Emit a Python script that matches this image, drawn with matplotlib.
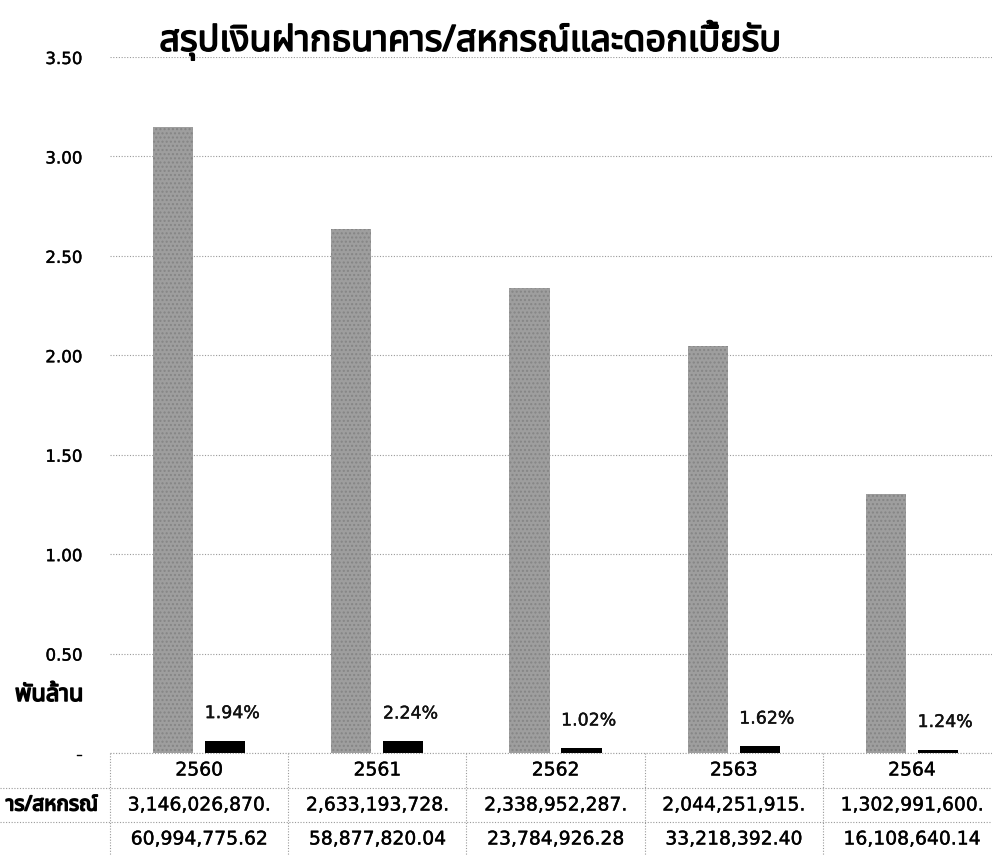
import matplotlib
matplotlib.use("Agg")
import matplotlib.pyplot as plt
from matplotlib import font_manager
from matplotlib.ft2font import FT2Font
from matplotlib.transforms import blended_transform_factory
import matplotlib.patheffects as pe
import numpy as np

# ---------------- data ----------------
years = ['2560', '2561', '2562', '2563', '2564']
deposits = [3146026870, 2633193728, 2338952287, 2044251915, 1302991600]
interest = [60994775.62, 58877820.04, 23784926.28, 33218392.40, 16108640.14]
deposit_labels = ['3,146,026,870.', '2,633,193,728.', '2,338,952,287.',
                  '2,044,251,915.', '1,302,991,600.']
interest_labels = ['60,994,775.62', '58,877,820.04', '23,784,926.28',
                   '33,218,392.40', '16,108,640.14']
pct_labels = ['1.94%', '2.24%', '1.02%', '1.62%', '1.24%']
yticks = [0, 0.5, 1.0, 1.5, 2.0, 2.5, 3.0, 3.5]
ytick_labels = ['-', '0.50', '1.00', '1.50', '2.00', '2.50', '3.00', '3.50']
title = 'สรุปเงินฝากธนาคาร/สหกรณ์และดอกเบี้ยรับ'
unit_label = 'พันล้าน'
row_label = 'าร/สหกรณ์'


def find_thai_font():
    prefs = ['Noto Sans Thai', 'Noto Sans Thai UI', 'Loma', 'Garuda',
             'Tlwg Typo', 'Sarabun', 'Kinnari', 'Norasi', 'Noto Serif Thai']
    names = {f.name for f in font_manager.fontManager.ttflist}
    for p in prefs:
        if p in names:
            return p
    for f in font_manager.fontManager.ttflist:
        try:
            ft = FT2Font(f.fname)
            if ft.get_char_index(0x0E2A):
                return f.name
        except Exception:
            pass
    return None


thai = find_thai_font()
fam = ['DejaVu Sans'] + ([thai] if thai else [])
thai_fam = ([thai] if thai else []) + ['DejaVu Sans']
plt.rcParams['font.family'] = fam

W, H = 992, 855
fig = plt.figure(figsize=(W / 100, H / 100), dpi=100)


def fx(px):
    return px / W


def fy(px):
    return 1 - px / H


bold_fx = [pe.withStroke(linewidth=1.1, foreground='black')]
semi_fx = [pe.withStroke(linewidth=0.3, foreground='#111111')]

y0_px, y35_px = 753, 57
left_px, right_px = 110, 1001
ax = fig.add_axes([fx(left_px), fy(y0_px), fx(right_px - left_px),
                   (y0_px - y35_px) / H])
ax.set_xlim(-0.5, 4.5)
ax.set_ylim(0, 3.5)

x = np.arange(len(years))
off = 0.146
bw = 0.225
dep_b = np.array(deposits) / 1e9
int_b = np.array(interest) / 1e9
ax.bar(x - off, dep_b, width=bw, color='#9e9e9e', zorder=3, hatch='....',
       edgecolor='#858585', linewidth=0)
ax.bar(x + off, int_b, width=bw, color='#000000', zorder=3)

for i in range(len(years)):
    t = ax.annotate(pct_labels[i], (x[i] + off + 0.04, int_b[i]),
                    xytext=(0, 20), textcoords='offset points',
                    ha='center', va='center', fontsize=12.5, color='#111111')
    t.set_path_effects(semi_fx)

for s in ax.spines.values():
    s.set_visible(False)
ax.set_xticks([])
ax.set_yticks(yticks)
ax.set_yticklabels(ytick_labels, fontsize=12)
ax.tick_params(axis='y', length=0, pad=20)
for lab in ax.get_yticklabels():
    lab.set_path_effects(semi_fx)
ax.grid(axis='y', color='#9a9a9a', linestyle=(0, (1, 1.5)), linewidth=0.8,
        zorder=0)
ax.set_axisbelow(True)

# title and unit
fig.text(fx(470), fy(40), title, fontsize=26, ha='center', va='center',
         family=thai_fam, path_effects=bold_fx)
fig.text(fx(49), fy(695), unit_label, fontsize=17, ha='center',
         va='center', family=thai_fam, path_effects=bold_fx)

# data table below
tr = blended_transform_factory(ax.transData, fig.transFigure)
line_kw = dict(color='#9a9a9a', linestyle=(0, (1, 1.5)), linewidth=0.8)
fig.add_artist(plt.Line2D([fx(110), 1], [fy(753), fy(753)], **line_kw))
fig.add_artist(plt.Line2D([0, 1], [fy(788), fy(788)], **line_kw))
fig.add_artist(plt.Line2D([0, 1], [fy(822), fy(822)], **line_kw))
for b in np.arange(-0.5, 5.0, 1.0):
    fig.add_artist(plt.Line2D([b, b], [fy(753), 0], transform=tr, **line_kw))

for i in range(len(years)):
    for txt, ypx in ((years[i], 770), (deposit_labels[i], 805),
                     (interest_labels[i], 839)):
        fig.text(x[i], fy(ypx), txt, transform=tr, ha='center',
                 va='center', fontsize=13.5, path_effects=semi_fx)

fig.text(fx(98), fy(805), row_label, ha='right', va='center', fontsize=15,
         family=thai_fam, path_effects=bold_fx)

fig.savefig('out.png', dpi=100)
